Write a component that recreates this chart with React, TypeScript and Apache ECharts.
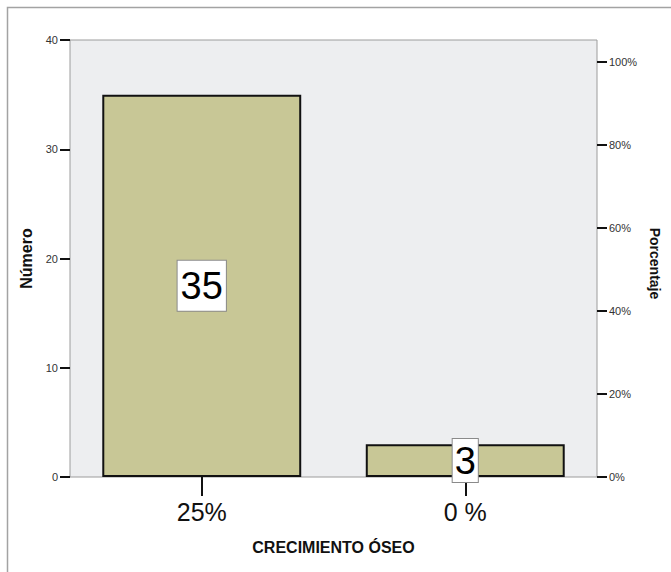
import React, { useEffect, useRef } from "react";
import * as echarts from "echarts";

// Bone growth categories and patient counts
const categories = ["25%", "0 %"];
const counts = [35, 3];
const countTicks = [0, 10, 20, 30, 40];
const percentTicks = [0, 20, 40, 60, 80, 100];

const FONT = "'Liberation Sans', Arial, Helvetica, sans-serif";

export default function App() {
  const ref = useRef<HTMLDivElement>(null);

  useEffect(() => {
    if (!ref.current) return;
    const chart = echarts.init(ref.current, undefined, { renderer: "svg" });
    const total = counts.reduce((a, b) => a + b, 0);
    // percentage ticks expressed in count units so both axes share one scale
    const pctPositions = percentTicks.map((p) => (p / 100) * total);

    const option: echarts.EChartsOption = {
      animation: false,
      backgroundColor: "#ffffff",
      textStyle: { fontFamily: FONT },
      graphic: [
        {
          type: "rect",
          shape: { x: 7.5, y: 7.5, width: 700, height: 600 },
          style: { fill: "none", stroke: "#a3a3a3", lineWidth: 1.5 },
          silent: true,
        },
      ],
      grid: {
        left: 70,
        top: 40,
        right: 74,
        bottom: 95,
        show: true,
        backgroundColor: "#EDEEF0",
        borderColor: "#9c9c9c",
        borderWidth: 1,
      },
      xAxis: {
        type: "category",
        data: categories,
        name: "CRECIMIENTO ÓSEO",
        nameLocation: "middle",
        nameGap: 62,
        nameTextStyle: { fontSize: 16, fontWeight: "bold", color: "#111", fontFamily: FONT },
        axisLine: { show: false },
        axisTick: { show: true, alignWithLabel: true, length: 19, lineStyle: { color: "#111", width: 2 } },
        axisLabel: { fontSize: 25, color: "#111", margin: 22, fontFamily: FONT },
        splitLine: { show: false },
      },
      yAxis: [
        {
          type: "value",
          position: "left",
          min: countTicks[0],
          max: countTicks[countTicks.length - 1],
          interval: 10,
          name: "Número",
          nameLocation: "middle",
          nameGap: 34,
          nameTextStyle: { fontSize: 16, fontWeight: "bold", color: "#111", fontFamily: FONT },
          axisLine: { show: false },
          axisTick: { show: true, length: 10, lineStyle: { color: "#111", width: 2 } },
          axisLabel: { fontSize: 11, color: "#333", margin: 12, fontFamily: FONT },
          splitLine: { show: false },
        },
        {
          type: "value",
          position: "right",
          min: countTicks[0],
          max: countTicks[countTicks.length - 1],
          name: "Porcentaje",
          nameLocation: "middle",
          nameRotate: -90,
          nameGap: 48,
          nameTextStyle: {
            fontSize: 14,
            fontWeight: "bold",
            color: "#111",
            fontFamily: FONT,
            padding: [0, 0, 0, 10],
          },
          axisLine: { show: false },
          axisTick: {
            show: true,
            length: 10,
            lineStyle: { color: "#111", width: 2 },
            customValues: pctPositions,
          } as any,
          axisLabel: {
            fontSize: 11,
            color: "#333",
            margin: 12,
            fontFamily: FONT,
            customValues: pctPositions,
            formatter: (v: number) => `${Math.round((v / total) * 100)}%`,
          } as any,
          splitLine: { show: false },
        },
      ],
      series: [
        {
          type: "bar",
          yAxisIndex: 0,
          barWidth: "75.5%",
          itemStyle: { color: "#C8C796", borderColor: "#111", borderWidth: 2 },
          label: {
            show: true,
            position: "inside",
            fontSize: 38,
            lineHeight: 38,
            color: "#000",
            fontFamily: FONT,
            backgroundColor: "#ffffff",
            borderColor: "#8a8a8a",
            borderWidth: 1,
            padding: [6, 3, 6, 3],
          },
          data: counts.map((v, i) =>
            i === 1
              ? { value: v, label: { lineHeight: 34, padding: [9, 2, 0, 2] } }
              : { value: v }
          ),
        },
      ],
    };

    chart.setOption(option);
    return () => chart.dispose();
  }, []);

  return (
    <div
      ref={ref}
      style={{ position: "absolute", left: 0, top: 0, width: 671, height: 572 }}
    />
  );
}
